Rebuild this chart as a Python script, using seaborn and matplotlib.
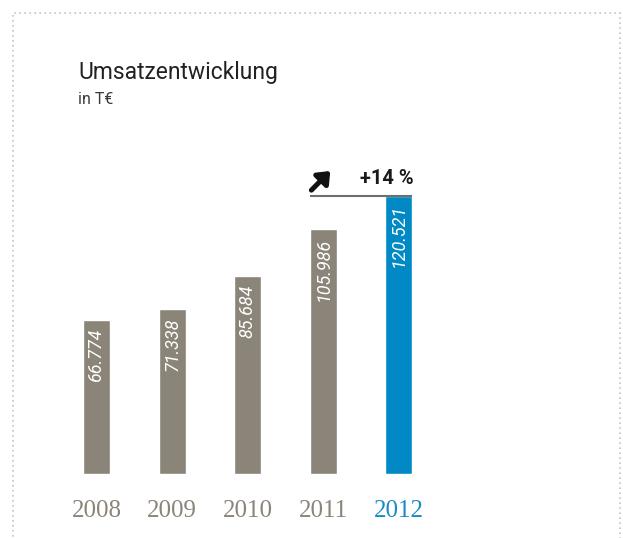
import matplotlib
matplotlib.use("Agg")
import matplotlib.pyplot as plt
import seaborn as sns
import pandas as pd
from matplotlib.patches import Rectangle

years = ["2008", "2009", "2010", "2011", "2012"]
values = [66774, 71338, 85684, 105986, 120521]
bar_colors = ["#8b8478", "#8b8478", "#8b8478", "#8b8478", "#0089c4"]
label_colors = ["#8b8478", "#8b8478", "#8b8478", "#8b8478", "#1a8cc4"]
title = "Umsatzentwicklung"
subtitle = "in T€"

sns.set_theme(style="white")
plt.rcParams['font.family'] = ['Roboto', 'DejaVu Sans']

W, H = 623, 538
fig = plt.figure(figsize=(W / 100, H / 100), dpi=100)
fig.patch.set_facecolor("white")

ax_left, ax_right = 58.7, 436.8
ax_bottom, ax_top = 474, 130
ax = fig.add_axes([ax_left / W, (H - ax_bottom) / H, (ax_right - ax_left) / W, (ax_bottom - ax_top) / H])

df = pd.DataFrame({"year": years, "value": values})
bw = 0.357
sns.barplot(data=df, x="year", y="value", hue="year", palette=bar_colors,
            width=bw, legend=False, ax=ax, saturation=1)

ax.set_xlim(-0.5, 4.5)
ax.set_ylim(0, 149100)
for s in ax.spines.values():
    s.set_visible(False)
ax.set_yticks([])
ax.set_xlabel("")
ax.set_ylabel("")
ax.tick_params(axis="x", length=0, pad=19)
ax.set_xticks(range(len(years)))
ax.set_xticklabels(years, fontfamily=["Liberation Serif", "DejaVu Serif"], fontsize=18)
for lbl, c in zip(ax.get_xticklabels(), label_colors):
    lbl.set_color(c)

def de_fmt(v):
    return f"{v:,}".replace(",", ".")

for i, v in enumerate(values):
    ax.annotate(de_fmt(v), xy=(i, v), xytext=(0, -6), textcoords="offset points",
                rotation=90, ha="center", va="top", color="white",
                fontsize=13, fontstyle="italic")

# growth annotation
growth = round((values[-1] / values[-2] - 1) * 100)
ax.plot([3 - bw / 2, 4 + bw / 2], [values[-1], values[-1]], color="#6e6e6e", lw=1.5,
        solid_capstyle="butt", clip_on=False)
ax.annotate(f"+{growth} %", xy=(4 + bw / 2, values[-1]), xytext=(1, 6), textcoords="offset points",
            ha="right", va="bottom", fontsize=14.5, fontweight="bold", color="#1a1a1a")
ax.annotate("", xy=(3 - bw / 2 + 0.27, values[-1] + 10800),
            xytext=(3 - bw / 2 + 0.02, values[-1] + 2500),
            arrowprops=dict(arrowstyle="-|>,head_length=0.55,head_width=0.45", lw=3.6,
                            color="#111111", shrinkA=0, shrinkB=0))

fig.text(78 / W, 1 - 73 / H, title, fontsize=16.5, color="#222222", va="center", ha="left")
fig.text(78 / W, 1 - 100 / H, subtitle, fontsize=11.5, color="#3a3a3a", va="center", ha="left")

border = Rectangle((13.5 / W, -0.05), (620 - 13.5) / W, 1.05 - 13 / H,
                   transform=fig.transFigure, fill=False, edgecolor="#c9c4bb",
                   linestyle=(0, (1, 2)), lw=1.2, clip_on=False)
fig.patches.append(border)

fig.savefig("out.png", dpi=100, facecolor="white")
